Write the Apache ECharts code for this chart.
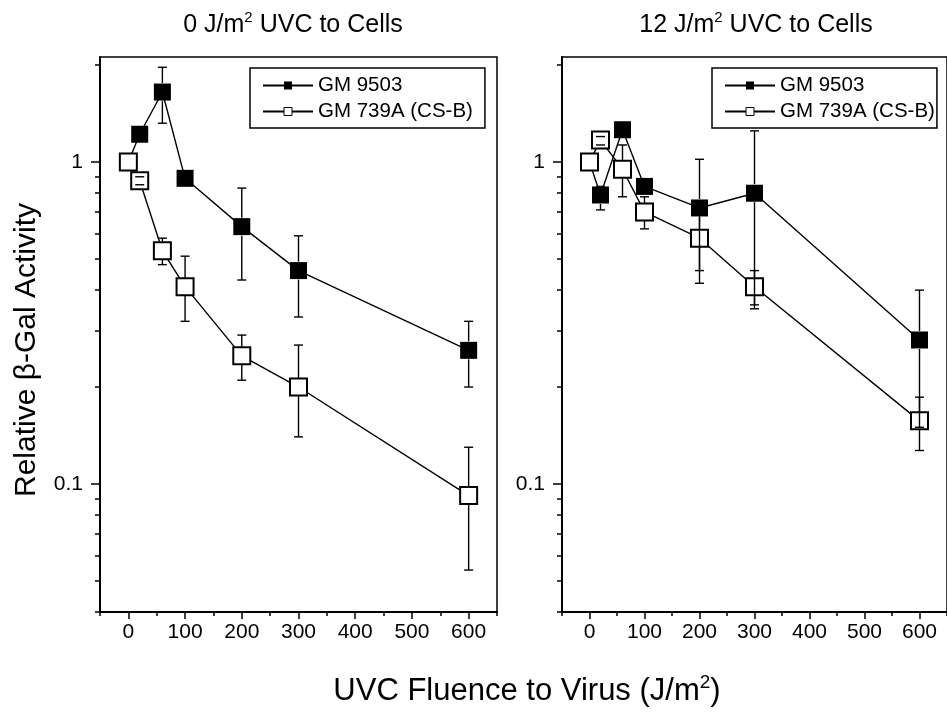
<!DOCTYPE html>
<html>
<head>
<meta charset="utf-8">
<script src="https://cdn.jsdelivr.net/npm/echarts@6/dist/echarts.min.js"></script>
<style>
  html, body { margin: 0; padding: 0; background: #fff; }
  #chart { width: 947px; height: 717px; }
</style>
</head>
<body>
<div id="chart"></div>
<script>
// UVC fluence delivered to the virus (J/m2)
const fluence = [0, 20, 60, 100, 200, 300, 600];

// Cells given 0 J/m2 UVC
const gm9503_0    = [1.0, 1.22, 1.65, 0.89, 0.63, 0.46, 0.26];
const gm9503_0_lo = [null, null, 1.32, null, 0.43, 0.33, 0.20];
const gm9503_0_hi = [null, null, 1.97, null, 0.83, 0.59, 0.32];
const gm739a_0    = [1.0, 0.875, 0.53, 0.41, 0.25, 0.20, 0.092];
const gm739a_0_lo = [null, 0.85, 0.48, 0.32, 0.21, 0.14, 0.054];
const gm739a_0_hi = [null, 0.90, 0.58, 0.51, 0.29, 0.27, 0.13];

// Cells given 12 J/m2 UVC
const gm9503_12    = [1.0, 0.79, 1.26, 0.84, 0.72, 0.80, 0.28];
const gm9503_12_lo = [null, 0.71, null, null, 0.42, 0.35, 0.15];
const gm9503_12_hi = [null, 0.84, null, null, 1.02, 1.25, 0.40];
const gm739a_12    = [1.0, 1.17, 0.95, 0.70, 0.58, 0.41, 0.157];
const gm739a_12_lo = [null, 1.13, 0.78, 0.62, 0.46, 0.36, 0.127];
const gm739a_12_hi = [null, 1.20, 1.13, 0.78, 0.73, 0.46, 0.186];

// Axis ticks
const xMajorTicks = [0, 100, 200, 300, 400, 500, 600];
const xMinorTicks = [-50, 50, 150, 250, 350, 450, 550, 650];
const yMajorTicks = [0.1, 1];
const yMinorTicks = [0.04, 0.05, 0.06, 0.07, 0.08, 0.09,
                     0.2, 0.3, 0.4, 0.5, 0.6, 0.7, 0.8, 0.9, 2];

const seriesNames = ['GM 9503', 'GM 739A (CS-B)'];
const panelTitles = ['0 J/m{sup|2} UVC to Cells', '12 J/m{sup|2} UVC to Cells'];
const yTitle = 'Relative \u03B2-Gal Activity';
const xTitle = 'UVC Fluence to Virus (J/m{sup|2})';

const FONT = '"Liberation Sans", Arial, Helvetica, sans-serif';
const MARK = 17;

const panels = [
  { filled: [gm9503_0, gm9503_0_lo, gm9503_0_hi], open: [gm739a_0, gm739a_0_lo, gm739a_0_hi] },
  { filled: [gm9503_12, gm9503_12_lo, gm9503_12_hi], open: [gm739a_12, gm739a_12_lo, gm739a_12_hi] }
];

const gridBoxes = [
  { left: 100, top: 57, width: 397, height: 555 },
  { left: 562, top: 57, width: 396, height: 555 }
];

function xAxes(gi) {
  const base = { gridIndex: gi, type: 'value', min: -50, max: 650, position: 'bottom',
                 splitLine: { show: false } };
  return [
    Object.assign({}, base, {
      axisLine: { onZero: false, lineStyle: { color: '#000', width: 2 } },
      axisTick: { customValues: xMinorTicks, length: 4, lineStyle: { color: '#000', width: 1.5 } },
      axisLabel: { show: false }
    }),
    Object.assign({}, base, {
      axisLine: { show: false, onZero: false },
      axisTick: { customValues: xMajorTicks, length: 7, lineStyle: { color: '#000', width: 1.5 } },
      axisLabel: { customValues: xMajorTicks, color: '#000', fontSize: 21, fontFamily: FONT, margin: 10 }
    })
  ];
}

function yAxes(gi) {
  const base = { gridIndex: gi, type: 'log', logBase: 10, min: 0.04, max: 2.12, position: 'left',
                 splitLine: { show: false } };
  return [
    Object.assign({}, base, {
      axisLine: { onZero: false, lineStyle: { color: '#000', width: 2 } },
      axisTick: { customValues: yMinorTicks, length: 5, lineStyle: { color: '#000', width: 1.5 } },
      axisLabel: { show: false }
    }),
    Object.assign({}, base, {
      axisLine: { show: false, onZero: false },
      axisTick: { customValues: yMajorTicks, length: 9, lineStyle: { color: '#000', width: 1.5 } },
      axisLabel: { customValues: yMajorTicks, color: '#000', fontSize: 21, fontFamily: FONT, margin: 17,
                   formatter: v => String(v) }
    })
  ];
}

function lineSeries(name, vals, gi, open) {
  return {
    type: 'line', name, xAxisIndex: gi * 2, yAxisIndex: gi * 2,
    data: fluence.map((x, i) => [x, vals[i]]),
    symbol: 'rect', symbolSize: MARK,
    itemStyle: open ? { color: '#fff', borderColor: '#000', borderWidth: 2 } : { color: '#000' },
    lineStyle: { color: '#000', width: 1.4 },
    z: open ? 4 : 3, silent: true, animation: false
  };
}

// Error bars: whiskers stop at the marker edge, caps are always drawn
function errorSeries(name, vals, lo, hi, gi) {
  const data = [];
  fluence.forEach((x, i) => {
    if (lo[i] != null || hi[i] != null) {
      data.push([x, vals[i], lo[i] != null ? lo[i] : vals[i], hi[i] != null ? hi[i] : vals[i]]);
    }
  });
  return {
    type: 'custom', name, xAxisIndex: gi * 2, yAxisIndex: gi * 2, z: 6, silent: true,
    animation: false, clip: false,
    encode: { x: 0, y: [1, 2, 3] },
    data,
    renderItem(params, api) {
      const x = api.value(0);
      const c = api.coord([x, api.value(1)]);
      const pLo = api.coord([x, api.value(2)]);
      const pHi = api.coord([x, api.value(3)]);
      const half = MARK / 2 + 0.5;
      const cap = 4.5;
      const style = { stroke: '#000', lineWidth: 1.4, fill: null };
      const children = [];
      if (api.value(3) !== api.value(1)) {
        if (pHi[1] < c[1] - half) {
          children.push({ type: 'line', shape: { x1: c[0], y1: pHi[1], x2: c[0], y2: c[1] - half }, style });
        }
        children.push({ type: 'line', shape: { x1: c[0] - cap, y1: pHi[1], x2: c[0] + cap, y2: pHi[1] }, style });
      }
      if (api.value(2) !== api.value(1)) {
        if (pLo[1] > c[1] + half) {
          children.push({ type: 'line', shape: { x1: c[0], y1: c[1] + half, x2: c[0], y2: pLo[1] }, style });
        }
        children.push({ type: 'line', shape: { x1: c[0] - cap, y1: pLo[1], x2: c[0] + cap, y2: pLo[1] }, style });
      }
      return { type: 'group', children };
    }
  };
}

const series = [];
panels.forEach((p, gi) => {
  series.push(lineSeries(seriesNames[0], p.filled[0], gi, false));
  series.push(lineSeries(seriesNames[1], p.open[0], gi, true));
});
panels.forEach((p, gi) => {
  series.push(errorSeries(seriesNames[0] + ' error', p.filled[0], p.filled[1], p.filled[2], gi));
  series.push(errorSeries(seriesNames[1] + ' error', p.open[0], p.open[1], p.open[2], gi));
});

const supRich = size => ({ sup: { fontSize: size, fontFamily: FONT, fill: '#000', verticalAlign: 'top', lineHeight: 14 } });

const option = {
  backgroundColor: '#fff',
  animation: false,
  grid: gridBoxes.map(b => Object.assign({ show: true, borderColor: '#000', borderWidth: 1.5,
                                           backgroundColor: 'transparent' }, b)),
  xAxis: [].concat(xAxes(0), xAxes(1)),
  yAxis: [].concat(yAxes(0), yAxes(1)),
  legend: [
    { left: 250, padding: [7, 12, 6, 12] },
    { left: 712, padding: [7, 2, 6, 12] }
  ].map(l => Object.assign({
    data: seriesNames, orient: 'vertical', top: 68, itemGap: 5,
    itemWidth: 50, itemHeight: 10, selectedMode: false,
    borderColor: '#000', borderWidth: 1.5, backgroundColor: '#fff',
    textStyle: { fontSize: 20.5, color: '#000', fontFamily: FONT },
    itemStyle: { borderWidth: 1 }
  }, l)),
  graphic: [
    { type: 'text', x: 293, y: 25, silent: true,
      style: { text: panelTitles[0], fontSize: 25, fontFamily: FONT, fill: '#000',
               align: 'center', verticalAlign: 'middle', lineHeight: 30, rich: supRich(15) } },
    { type: 'text', x: 756, y: 25, silent: true,
      style: { text: panelTitles[1], fontSize: 25, fontFamily: FONT, fill: '#000',
               align: 'center', verticalAlign: 'middle', lineHeight: 30, rich: supRich(15) } },
    { type: 'text', x: 27, y: 350, rotation: Math.PI / 2, silent: true,
      style: { text: yTitle, fontSize: 30, fontFamily: FONT, fill: '#000',
               align: 'center', verticalAlign: 'middle' } },
    { type: 'text', x: 527, y: 691, silent: true,
      style: { text: xTitle, fontSize: 31, fontFamily: FONT, fill: '#000',
               align: 'center', verticalAlign: 'middle', lineHeight: 36, rich: supRich(19) } }
  ],
  series
};

const chart = echarts.init(document.getElementById('chart'), null, { renderer: 'canvas' });
chart.setOption(option);
</script>
</body>
</html>
